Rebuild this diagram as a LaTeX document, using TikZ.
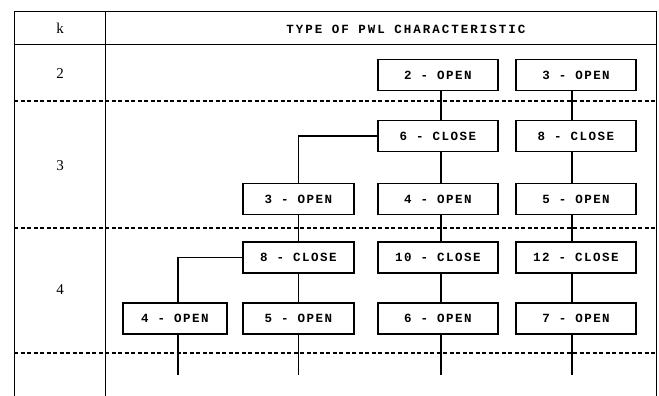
\documentclass[tikz,border=0pt]{standalone}
\usepackage{fontspec}
\setmainfont{Liberation Serif}
\newfontfamily\typefont[LetterSpace=12]{Liberation Mono}
\newfontfamily\headfont[LetterSpace=16]{Liberation Mono}
\begin{document}
\begin{tikzpicture}[x=1pt,y=-1pt,
  frame/.style={line width=1pt},
  rowsep/.style={line width=1.2pt, dash pattern=on 4pt off 2.5pt},
  wire/.style={line width=1.2pt},
  cell/.style={draw, line width=1.1pt, inner sep=0pt, minimum height=31pt,
    font=\typefont\bfseries\fontsize{12.5}{15}\selectfont},
  kval/.style={font=\fontsize{15}{18}\selectfont},
  colA/.style={cell, minimum width=104pt},
  colB/.style={cell, minimum width=111pt},
  colC/.style={cell, minimum width=120pt},
  colD/.style={cell, minimum width=120pt}]
\useasboundingbox (0,0) rectangle (659,396);

% table frame
\draw[frame] (14,396) -- (14,12) -- (656,12) -- (656,396);
\draw[frame] (105,12) -- (105,396);
\draw[frame] (14,45) -- (656,45);
\foreach \yy in {101,228,353} \draw[rowsep] (14,\yy) -- (656,\yy);

% headings and k values
\node[kval] (hk) at (60,28) {k};
\node[font=\headfont\bfseries\fontsize{12.5}{15}\selectfont] (ht) at (406,29) {TYPE OF PWL CHARACTERISTIC};
\node[kval] (k2) at (60,74) {2};
\node[kval] (k3) at (60,166) {3};
\node[kval] (k4) at (60,290) {4};

% k = 2
\node[colC] (c1) at (438,75) {2 - OPEN};
\node[colD] (d1) at (576,75) {3 - OPEN};
% k = 3
\node[colC] (c2) at (438,136) {6 - CLOSE};
\node[colD] (d2) at (576,136) {8 - CLOSE};
\node[colB] (b3) at (298.5,199) {3 - OPEN};
\node[colC] (c3) at (438,199) {4 - OPEN};
\node[colD] (d3) at (576,199) {5 - OPEN};
% k = 4
\node[colB] (b4) at (298.5,257.5) {8 - CLOSE};
\node[colC] (c4) at (438,257.5) {10 - CLOSE};
\node[colD] (d4) at (576,257.5) {12 - CLOSE};
\node[colA] (a5) at (175,318.5) {4 - OPEN};
\node[colB] (b5) at (298.5,318.5) {5 - OPEN};
\node[colC] (c5) at (438,318.5) {6 - OPEN};
\node[colD] (d5) at (576,318.5) {7 - OPEN};

% open ends below the last row
\coordinate (ea) at (178,375);
\coordinate (eb) at (298.5,375);
\coordinate (ec) at (441,375);
\coordinate (ed) at (572,375);

% connections (column wires sit slightly off the box centres)
\tikzset{cs/.style={xshift=3pt}, ds/.style={xshift=-4pt}}
\draw[wire] ([cs]c1.south) -- ([cs]c2.north);
\draw[wire] ([ds]d1.south) -- ([ds]d2.north);
\draw[wire] (c2.west) -| (b3.north);
\draw[wire] ([cs]c2.south) -- ([cs]c3.north);
\draw[wire] ([ds]d2.south) -- ([ds]d3.north);
\draw[wire] (b3) -- (b4);
\draw[wire] ([cs]c3.south) -- ([cs]c4.north);
\draw[wire] ([ds]d3.south) -- ([ds]d4.north);
\draw[wire] (b4.west) -| ([xshift=3pt]a5.north);
\draw[wire] (b4) -- (b5);
\draw[wire] ([cs]c4.south) -- ([cs]c5.north);
\draw[wire] ([ds]d4.south) -- ([ds]d5.north);
\draw[wire] ([xshift=3pt]a5.south) -- (ea);
\draw[wire] (b5.south) -- (eb);
\draw[wire] ([cs]c5.south) -- (ec);
\draw[wire] ([ds]d5.south) -- (ed);
\end{tikzpicture}
\end{document}
